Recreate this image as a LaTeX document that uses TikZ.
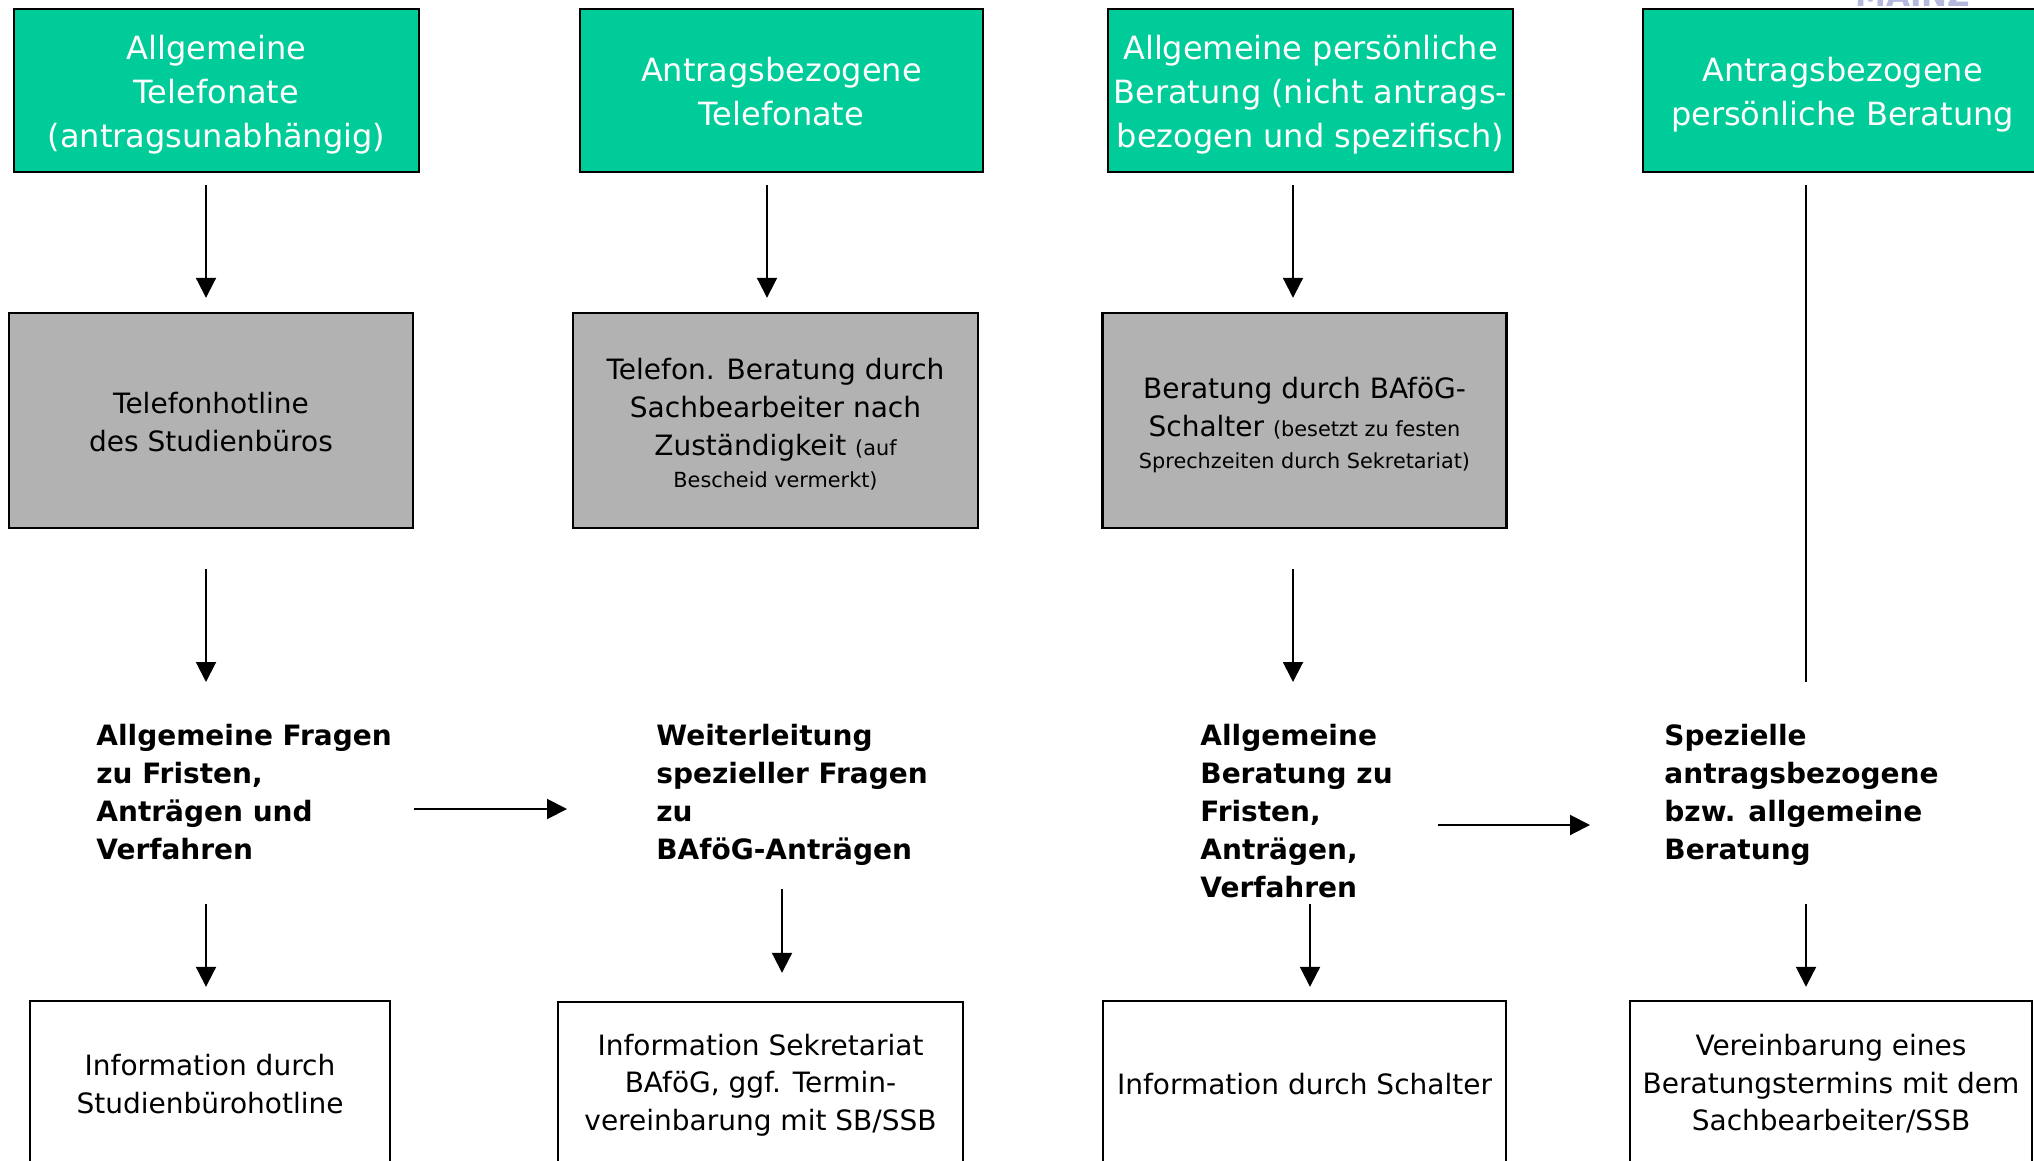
\documentclass[tikz,border=0pt]{standalone}
\usepackage{fontspec}
\setmainfont{DejaVu Sans}
\usetikzlibrary{arrows.meta,calc}
\definecolor{boxgreen}{HTML}{00CC99}
\definecolor{boxgray}{HTML}{B2B2B2}
\definecolor{logoblue}{HTML}{B4B8DC}
\tikzset{
  gbox/.style={draw=black, line width=1.2pt, fill=boxgreen, minimum height=81.5pt, inner sep=0pt},
  gtext/.style={text=white, align=center, inner sep=0pt, font=\fontsize{16pt}{22pt}\selectfont},
  hbox/.style={draw=black, line width=1.2pt, fill=boxgray, minimum height=107.5pt, inner sep=0pt},
  htext/.style={text=black, align=center, inner sep=0pt, font=\fontsize{14pt}{19.2pt}\selectfont},
  wbox/.style={draw=black, line width=1.2pt, fill=white, text=black, align=center,
    minimum height=83pt, inner sep=0pt, font=\fontsize{14pt}{18.8pt}\selectfont},
  btext/.style={anchor=north west, align=left, inner sep=0pt,
    font=\bfseries\fontsize{14pt}{19pt}\selectfont},
  arr/.style={line width=1pt, -{Triangle[length=10pt,width=10pt]}},
  plainline/.style={line width=1pt},
}
\newcommand{\smalltxt}[1]{{\fontsize{10.4pt}{13pt}\selectfont #1}}
\begin{document}
\begin{tikzpicture}[x=0.5pt, y=-0.5pt]
\fill[white] (0,0) rectangle (2034,1161);
\useasboundingbox (0,0) rectangle (2034,1161);

% partially visible logo text (cut off at the top edge, as in the original)
\node[anchor=base west, inner sep=0pt, text=logoblue, font=\bfseries\fontsize{15.5pt}{18pt}\selectfont] (logo) at (1855,7) {MAINZ};

% top green boxes
\node[gbox, minimum width=202.5pt] (g1) at (216.5,90.5) {};
\node[gbox, minimum width=201.5pt] (g2) at (781.5,90.5) {};
\node[gbox, minimum width=202.5pt] (g3) at (1310.5,90.5) {};
\node[gbox, minimum width=202.5pt] (g4) at (1845.5,90.5) {};
\node[gtext] (g1x) at ($(g1.center)+(0,4.5)$) {Allgemeine\\Telefonate\\(antragsunabhängig)};
\node[gtext] (g2x) at ($(g2.center)+(0,1.5)$) {Antragsbezogene\\Telefonate};
\node[gtext] (g3x) at ($(g3.center)+(0,4.5)$) {Allgemeine persönliche\\Beratung (nicht antrags-\\bezogen und spezifisch)};
\node[gtext] (g4x) at ($(g4.center)+(-3,4.5)$) {Antragsbezogene\\persönliche Beratung};

% gray boxes
\node[hbox, minimum width=202pt] (h1) at (211,420.5) {};
\node[hbox, minimum width=202.5pt] (h2) at (775.5,420.5) {};
\node[hbox, minimum width=202pt] (h3) at (1304.5,420.5) {};
\node[htext] (h1x) at ($(h1.center)+(0,1.5)$) {Telefonhotline\\des Studienbüros};
\node[htext, font=\fontsize{14pt}{18.8pt}\selectfont] (h2x) at ($(h2.center)+(0,4)$) {Telefon. Beratung durch\\Sachbearbeiter nach\\Zuständigkeit \smalltxt{(auf}\\[-2.6pt]\smalltxt{Bescheid vermerkt)}};
\node[htext, font=\fontsize{14pt}{18.8pt}\selectfont] (h3x) at ($(h3.center)+(0,5)$) {Beratung durch BAföG-\\Schalter \smalltxt{(besetzt zu festen}\\[-2.6pt]\smalltxt{Sprechzeiten durch Sekretariat)}};

% bold texts
\node[btext] (t1) at (96,724) {Allgemeine Fragen\\zu Fristen,\\Anträgen und\\Verfahren};
\node[btext] (t2) at (656,724) {Weiterleitung\\spezieller Fragen\\zu\\BAföG-Anträgen};
\node[btext] (t3) at (1200,724) {Allgemeine\\Beratung zu\\Fristen,\\Anträgen,\\Verfahren};
\node[btext] (t4) at (1664,724) {Spezielle\\antragsbezogene\\bzw. allgemeine\\Beratung};

% bottom white boxes
\node[wbox, minimum width=180pt] (b1) at (210,1084) {Information durch\\Studienbürohotline};
\node[wbox, minimum width=202.5pt] (b2) at (760.5,1085) {Information Sekretariat\\BAföG, ggf. Termin-\\vereinbarung mit SB/SSB};
\node[wbox, minimum width=201.5pt] (b3) at (1304.5,1084) {Information durch Schalter};
\node[wbox, minimum width=201pt] (b4) at (1831,1084) {Vereinbarung eines\\Beratungstermins mit dem\\Sachbearbeiter/SSB};

% column 1
\draw[arr] ($(g1.south)+(-10.5,12)$) -- ($(h1.north)+(-5,-14)$);
\draw[arr] ($(h1.south)+(-5,40)$) -- ($(t1.north west)+(110,-42)$);
\draw[arr] ($(t1.north west)+(110,180)$) -- ($(b1.north)+(-4,-13)$);
\draw[arr] ($(t1.north west)+(318,85)$) -- ($(t2.north west)+(-89,85)$);

% column 2
\draw[arr] ($(g2.south)+(-14.5,12)$) -- ($(h2.north)+(-8.5,-14)$);
\draw[arr] ($(t2.north west)+(126,165)$) -- ($(b2.north)+(21.5,-28)$);

% column 3
\draw[arr] ($(g3.south)+(-17.5,12)$) -- ($(h3.north)+(-11.5,-14)$);
\draw[arr] ($(h3.south)+(-11.5,40)$) -- ($(t3.north west)+(93,-42)$);
\draw[arr] ($(t3.north west)+(110,180)$) -- ($(b3.north)+(5.5,-13)$);
\draw[arr] ($(t3.north west)+(238,101)$) -- ($(t4.north west)+(-74,101)$);

% column 4
\draw[plainline] ($(g4.south)+(-39.5,12)$) -- ($(t4.north west)+(142,-42)$);
\draw[arr] ($(t4.north west)+(142,180)$) -- ($(b4.north)+(-25,-13)$);
\end{tikzpicture}
\end{document}
